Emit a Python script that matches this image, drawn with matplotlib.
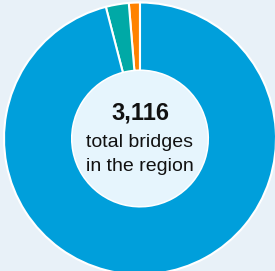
import matplotlib.pyplot as plt
from matplotlib.patches import Circle

plt.rcParams['font.family'] = ['Liberation Sans', 'DejaVu Sans']

# data
labels = ['Other', 'Minor', 'Main']
values = [41, 85, 2990]
colors = ['#FF8200', '#00A9A6', '#009FDB']
total = 3116

bg = '#E8F1F8'
inner = '#E6F5FD'

fig = plt.figure(figsize=(2.75, 2.71), dpi=100, facecolor=bg)
ax = fig.add_axes([0, 0, 1, 1])
ax.set_facecolor(bg)

cx, cy, R = 140, 132.5, 136
ax.pie(values, colors=colors, startangle=90, counterclock=True,
       center=(cx, cy), radius=R,
       wedgeprops=dict(width=R * 0.5, edgecolor='white', linewidth=1.5))
ax.add_patch(Circle((cx, cy), R * 0.5 - 0.5, facecolor=inner, edgecolor='none', zorder=3))

ax.text(cx, 151.5, f'{total:,}', ha='center', va='baseline', fontsize=17,
        fontweight='bold', color='#111111', zorder=4)
ax.text(cx, 124.3, 'total bridges', ha='center', va='baseline', fontsize=14,
        color='#111111', zorder=4)
ax.text(cx, 100.3, 'in the region', ha='center', va='baseline', fontsize=14,
        color='#111111', zorder=4)

ax.set_xlim(0, 275)
ax.set_ylim(0, 271)
ax.set_aspect('equal')
ax.axis('off')

fig.savefig('out.png', dpi=100, facecolor=bg)
